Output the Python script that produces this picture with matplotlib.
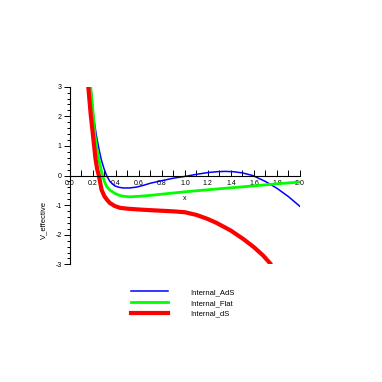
import matplotlib
matplotlib.use("Agg")
import matplotlib.pyplot as plt
from matplotlib.ticker import MultipleLocator

plt.rcParams["font.family"] = ["Liberation Sans", "DejaVu Sans"]

# values
x_ads = [0.183, 0.20, 0.215, 0.229, 0.25, 0.272, 0.295, 0.319, 0.348, 0.39, 0.43,
         0.464, 0.52, 0.58, 0.64, 0.70, 0.78, 0.90, 1.00, 1.10, 1.20, 1.28, 1.35,
         1.42, 1.50, 1.59, 1.70, 1.80, 1.90, 2.00]
y_ads = [3.0, 2.2, 1.75, 1.38, 0.95, 0.55, 0.25, 0.0, -0.2, -0.35, -0.40,
         -0.42, -0.42, -0.39, -0.33, -0.26, -0.19, -0.09, -0.03, 0.04, 0.10, 0.13, 0.14,
         0.13, 0.09, 0.0, -0.2, -0.43, -0.71, -1.04]

x_flat = [0.18, 0.20, 0.217, 0.235, 0.252, 0.268, 0.284, 0.30, 0.319, 0.35, 0.39,
          0.43, 0.464, 0.52, 0.61, 0.70, 0.80, 0.90, 1.00, 1.20, 1.35, 1.60, 1.80, 2.00]
y_flat = [3.0, 2.2, 1.38, 0.9, 0.55, 0.25, 0.0, -0.2, -0.37, -0.5, -0.6,
          -0.67, -0.7, -0.72, -0.7, -0.67, -0.63, -0.59, -0.55, -0.48, -0.43, -0.35, -0.28, -0.22]

x_ds = [0.16, 0.18, 0.20, 0.212, 0.223, 0.238, 0.252, 0.275, 0.30, 0.325, 0.348,
        0.39, 0.435, 0.50, 0.61, 0.70, 0.80, 0.90, 1.00, 1.10, 1.20, 1.275, 1.40,
        1.51, 1.60, 1.68, 1.74]
y_ds = [3.0, 2.1, 1.38, 0.95, 0.55, 0.2, 0.0, -0.48, -0.7, -0.83, -0.93,
        -1.03, -1.09, -1.12, -1.15, -1.17, -1.19, -1.21, -1.24, -1.33, -1.47, -1.6, -1.86,
        -2.15, -2.42, -2.7, -2.96]

fig = plt.figure(figsize=(3.82, 3.82), dpi=100)
ax = fig.add_axes([0.183, 0.308, 0.602, 0.465])

ax.plot(x_ads, y_ads, color="#0000ff", lw=1.1, label="Internal_AdS")
ax.plot(x_flat, y_flat, color="#00ff00", lw=2.0, label="Internal_Flat")
ax.plot(x_ds, y_ds, color="#ff0000", lw=3.0, label="Internal_dS")

ax.set_xlim(0, 2)
ax.set_ylim(-3, 3)

ax.spines["left"].set_position(("data", 0))
ax.spines["bottom"].set_position(("data", 0))
ax.spines["top"].set_visible(False)
ax.spines["right"].set_visible(False)
for s in ["left", "bottom"]:
    ax.spines[s].set_linewidth(0.8)

ax.xaxis.set_major_locator(MultipleLocator(0.2))
ax.xaxis.set_minor_locator(MultipleLocator(0.1))
ax.yaxis.set_major_locator(MultipleLocator(1))
ax.yaxis.set_minor_locator(MultipleLocator(0.2))
ax.xaxis.set_major_formatter(plt.FuncFormatter(lambda v, p: f"{v:.1f}"))
ax.yaxis.set_major_formatter(plt.FuncFormatter(lambda v, p: f"{v:.0f}"))

ax.tick_params(axis="x", which="both", direction="in", length=4, width=0.7,
               labelsize=5, pad=3)
ax.tick_params(axis="y", which="major", direction="out", length=4, width=0.7,
               labelsize=5, pad=2)
ax.tick_params(axis="y", which="minor", direction="out", length=2.5, width=0.7)

ax.set_xlabel("x", fontsize=5)
ax.xaxis.set_label_coords(0.5, 0.39)
ax.set_ylabel("V_effective", fontsize=5.5)
ax.yaxis.set_label_coords(-0.097, 0.25)

fig.legend(loc="upper left", bbox_to_anchor=(0.343, 0.244), frameon=False,
           fontsize=5.5, handlelength=4.9, handletextpad=2.9, labelspacing=0.45,
           borderpad=0, borderaxespad=0)

fig.savefig("out.png", dpi=100)
